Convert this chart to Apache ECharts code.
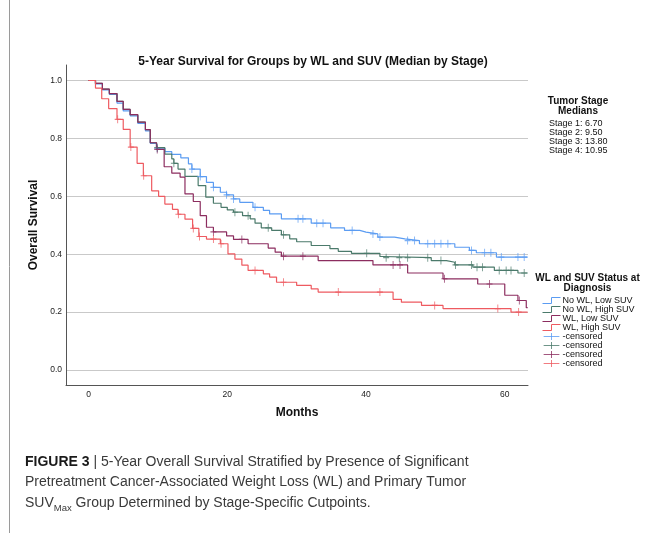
<!DOCTYPE html>
<html><head><meta charset="utf-8">
<script src="https://cdn.jsdelivr.net/npm/echarts@6/dist/echarts.min.js"></script>
<style>html,body{margin:0;padding:0;background:#fff}#c{width:655px;height:533px}</style>
</head><body><div id="c"></div>
<script>
// ---- tick labels ----
const xTicks = [0, 20, 40, 60];
const yTicks = [0, 0.2, 0.4, 0.6, 0.8, 1.0];

// ---- series names ----
const seriesNames = ['No WL, Low SUV', 'No WL, High SUV', 'WL, Low SUV', 'WL, High SUV'];

// ---- No WL, Low SUV ----
const t_noWL_low = [0, 1.0, 2.0, 3.0, 4.1, 5.0, 6.0, 7.1, 8.2, 8.9, 9.8, 11.0, 12.0, 13.3, 14.4, 14.9, 16.1, 17.0, 18.0, 19.0, 19.9, 20.9, 21.8, 23.7, 25.2, 26.1, 27.8, 32.1, 34.9, 36.9, 39.1, 40.0, 41.7, 44.1, 45.6, 47.7, 52.8, 54.9, 55.9, 58.8, 63.3];
const s_noWL_low = [1.0, 0.988, 0.968, 0.952, 0.922, 0.895, 0.878, 0.852, 0.826, 0.783, 0.766, 0.754, 0.745, 0.733, 0.712, 0.694, 0.668, 0.648, 0.631, 0.614, 0.605, 0.591, 0.579, 0.562, 0.551, 0.539, 0.522, 0.507, 0.491, 0.482, 0.476, 0.470, 0.459, 0.453, 0.447, 0.436, 0.424, 0.413, 0.405, 0.390, 0.390];
const c_noWL_low = [9.9, 14.9, 16.1, 18.0, 19.9, 20.9, 24.0, 30.2, 30.9, 32.9, 33.8, 38.0, 41.0, 42.0, 46.0, 47.0, 48.9, 49.9, 50.8, 51.8, 55.2, 57.1, 58.0, 59.5, 61.9, 62.8];

// ---- No WL, High SUV ----
const t_noWL_high = [0, 1.0, 2.0, 3.0, 4.1, 5.0, 6.0, 7.1, 8.2, 8.9, 9.8, 11.0, 12.0, 12.3, 12.9, 13.9, 15.8, 16.9, 18.0, 19.1, 20.0, 20.9, 22.2, 23.3, 24.0, 24.9, 26.4, 27.8, 29.0, 30.0, 32.1, 34.8, 36.0, 37.9, 42.0, 42.4, 49.4, 51.6, 52.8, 55.4, 58.5, 61.9, 63.3];
const s_noWL_high = [1.0, 0.99, 0.97, 0.955, 0.928, 0.900, 0.882, 0.856, 0.830, 0.785, 0.768, 0.746, 0.729, 0.714, 0.694, 0.669, 0.637, 0.597, 0.576, 0.562, 0.553, 0.545, 0.533, 0.522, 0.507, 0.491, 0.482, 0.467, 0.453, 0.443, 0.430, 0.419, 0.410, 0.403, 0.392, 0.388, 0.378, 0.372, 0.363, 0.355, 0.344, 0.335, 0.335];
const c_noWL_high = [9.9, 12.3, 21.1, 23.0, 25.9, 28.1, 40.1, 42.9, 44.8, 46.0, 48.9, 50.8, 52.9, 55.2, 56.0, 56.8, 59.2, 60.2, 60.9, 62.8];

// ---- WL, Low SUV ----
const t_WL_low = [0, 1.0, 2.0, 3.0, 4.1, 5.0, 6.0, 7.1, 8.2, 8.9, 9.8, 10.9, 12.0, 13.2, 13.9, 15.1, 16.1, 17.0, 18.0, 19.9, 20.9, 23.0, 25.9, 26.9, 27.8, 33.1, 41.0, 46.0, 51.1, 56.1, 60.0, 61.9, 63.1, 63.3];
const s_WL_low = [1.0, 0.99, 0.97, 0.955, 0.928, 0.900, 0.882, 0.856, 0.830, 0.785, 0.762, 0.702, 0.680, 0.666, 0.608, 0.582, 0.533, 0.493, 0.477, 0.463, 0.451, 0.436, 0.421, 0.407, 0.393, 0.378, 0.363, 0.335, 0.315, 0.297, 0.258, 0.240, 0.215, 0.215];
const c_WL_low = [9.9, 18.0, 22.1, 28.1, 30.9, 43.9, 44.9, 51.3, 57.8, 62.1];

// ---- WL, High SUV ----
const t_WL_high = [0, 1.0, 1.9, 2.9, 4.1, 5.0, 6.0, 7.0, 7.9, 9.1, 10.1, 11.0, 12.1, 12.9, 13.9, 15.0, 15.9, 17.0, 19.0, 20.1, 21.1, 22.1, 23.0, 25.2, 26.1, 27.1, 30.0, 32.1, 33.1, 43.9, 45.1, 48.0, 51.1, 60.9, 63.3];
const s_WL_high = [1.0, 0.974, 0.937, 0.903, 0.866, 0.831, 0.770, 0.714, 0.671, 0.619, 0.600, 0.573, 0.555, 0.538, 0.521, 0.489, 0.461, 0.452, 0.436, 0.401, 0.383, 0.362, 0.344, 0.332, 0.321, 0.303, 0.292, 0.280, 0.269, 0.244, 0.234, 0.223, 0.212, 0.200, 0.200];
const c_WL_high = [4.2, 6.1, 7.95, 12.95, 15.1, 16.0, 18.0, 19.1, 24.0, 28.1, 36.0, 42.0, 49.9, 59.0, 62.0];

// ---- styling ----
const colors = ['#5b9cf2', '#4b7a6b', '#8c2d5f', '#ee5a60'];
const FONT = '"Liberation Sans", Arial, Helvetica, sans-serif';

const groups = [
  [t_noWL_low, s_noWL_low, c_noWL_low],
  [t_noWL_high, s_noWL_high, c_noWL_high],
  [t_WL_low, s_WL_low, c_WL_low],
  [t_WL_high, s_WL_high, c_WL_high]
];

function zip(t, s) { return t.map((v, i) => [v, s[i]]); }
function stepValue(t, s, x) {
  let v = s[0];
  for (let i = 0; i < t.length; i++) { if (t[i] <= x) v = s[i]; else break; }
  return v;
}

const stepIcon = 'path://M0,7 L9,7 L9,1 L18,1';
const censorIcon = 'path://M0,4 L18,4 M9,0 L9,8';
const censorSymbol = 'path://M0,0 L0,8 M-3,4 L3,4';

const series = [];
const legendData = [];
groups.forEach((g, i) => {
  series.push({
    type: 'line', name: seriesNames[i], step: 'end', showSymbol: false, symbol: 'none',
    data: zip(g[0], g[1]),
    lineStyle: { color: colors[i], width: 1.2 }, itemStyle: { color: colors[i] },
    z: 2 + i, silent: true
  });
  legendData.push({ name: seriesNames[i], icon: stepIcon,
    itemStyle: { color: 'rgba(0,0,0,0)', borderColor: colors[i], borderWidth: 1 } });
});
groups.forEach((g, i) => {
  series.push({
    type: 'scatter', name: 'censored' + i, symbol: censorSymbol, symbolSize: [6, 8],
    data: g[2].map(x => [x, stepValue(g[0], g[1], x)]),
    itemStyle: { color: 'rgba(0,0,0,0)', borderColor: colors[i], borderWidth: 1 },
    z: 6 + i, silent: true
  });
  legendData.push({ name: 'censored' + i, icon: censorIcon,
    itemStyle: { color: 'rgba(0,0,0,0)', borderColor: colors[i], borderWidth: 1 } });
});

const chart = echarts.init(document.getElementById('c'), null, { renderer: 'canvas' });
chart.setOption({
  animation: false,
  backgroundColor: '#ffffff',
  textStyle: { fontFamily: FONT },
  title: {
    text: '5-Year Survival for Groups by WL and SUV (Median by Stage)',
    left: 313, top: 56, padding: 0, textAlign: 'center',
    textStyle: { fontFamily: FONT, fontSize: 12, fontWeight: 'bold', color: '#111' }
  },
  grid: { left: 66, right: 127, top: 65, bottom: 148, containLabel: false },
  xAxis: {
    type: 'value', min: -3.25, max: 63.35,
    axisLine: { show: true, onZero: false, lineStyle: { color: '#555', width: 1 } },
    axisTick: { show: false, customValues: xTicks },
    axisLabel: { customValues: xTicks, fontSize: 8.5, color: '#222', margin: 5, fontFamily: FONT },
    splitLine: { show: false },
    name: 'Months', nameLocation: 'middle', nameGap: 22,
    nameTextStyle: { fontFamily: FONT, fontWeight: 'bold', fontSize: 12, color: '#111' }
  },
  yAxis: {
    type: 'value', min: -0.052, max: 1.0536,
    axisLine: { show: true, onZero: false, lineStyle: { color: '#555', width: 1 } },
    axisTick: { show: false, customValues: yTicks },
    axisLabel: { customValues: yTicks, formatter: v => Number(v).toFixed(1), fontSize: 8.5, color: '#222', margin: 4, fontFamily: FONT },
    splitLine: { show: true, lineStyle: { color: '#c9c9c9', width: 1 } },
    name: 'Overall Survival', nameLocation: 'middle', nameGap: 26, nameRotate: 90,
    nameTextStyle: { fontFamily: FONT, fontWeight: 'bold', fontSize: 12, color: '#111' }
  },
  legend: {
    orient: 'vertical', left: 542, top: 296, padding: 0, itemGap: 0,
    itemWidth: 18, itemHeight: 7, selectedMode: false,
    data: legendData,
    formatter: n => (n.indexOf('censored') === 0 ? '-censored' : n),
    textStyle: { fontFamily: FONT, fontSize: 9, color: '#111', lineHeight: 8.75, padding: [0, 0, 0, -3] }
  },
  graphic: [
    { type: 'line', shape: { x1: 9.5, y1: 0, x2: 9.5, y2: 533 }, style: { stroke: '#9a9a9a', lineWidth: 1 } },
    { type: 'text', x: 578, y: 96.2, style: { text: 'Tumor Stage\nMedians', align: 'center', verticalAlign: 'top',
      fontFamily: FONT, fontSize: 10, fontWeight: 'bold', lineHeight: 9.7, fill: '#111' } },
    { type: 'text', x: 549, y: 119.6, style: { text: 'Stage 1: 6.70\nStage 2: 9.50\nStage 3: 13.80\nStage 4: 10.95',
      align: 'left', verticalAlign: 'top', fontFamily: FONT, fontSize: 9, lineHeight: 8.75, fill: '#111' } },
    { type: 'text', x: 587.5, y: 273.5, style: { text: 'WL and SUV Status at\nDiagnosis', align: 'center', verticalAlign: 'top',
      fontFamily: FONT, fontSize: 10, fontWeight: 'bold', lineHeight: 9.7, fill: '#111' } },
    { type: 'text', x: 25, y: 451.3, style: {
      text: '{b|FIGURE 3} | 5-Year Overall Survival Stratified by Presence of Significant\nPretreatment Cancer-Associated Weight Loss (WL) and Primary Tumor\nSUV{sub|Max} Group Determined by Stage-Specific Cutpoints.',
      align: 'left', verticalAlign: 'top', fontFamily: FONT, fontSize: 14, lineHeight: 20.7, fill: '#3a3a3a',
      rich: {
        b: { fontFamily: FONT, fontSize: 14, fontWeight: 'bold', fill: '#1a1a1a', lineHeight: 20.7 },
        sub: { fontFamily: FONT, fontSize: 9.5, fill: '#3a3a3a', lineHeight: 13, verticalAlign: 'bottom' }
      } } }
  ],
  series: series
});
</script></body></html>
